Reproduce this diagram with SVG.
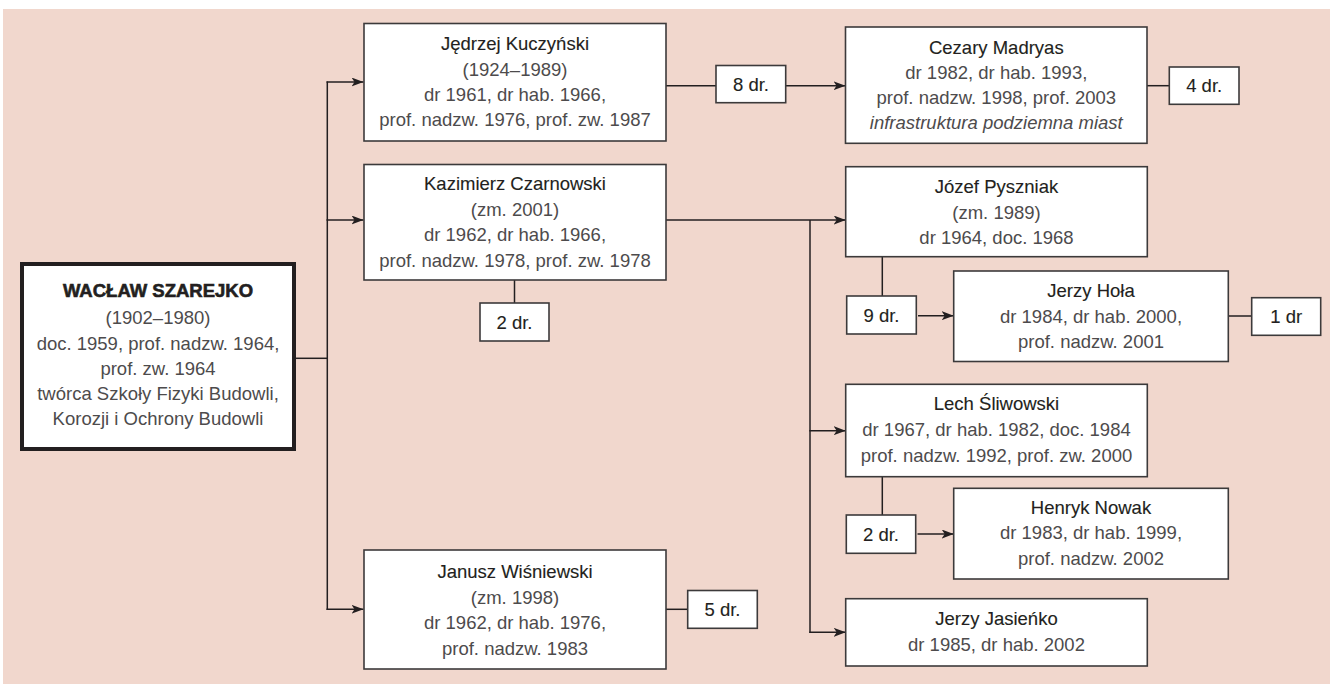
<svg xmlns="http://www.w3.org/2000/svg" width="1330" height="684" viewBox="0 0 1330 684">
  <style>
    .bg { fill: #f1d7cd; }
    .box { fill: #ffffff; stroke: #3c3a3b; stroke-width: 1.6; }
    .root { fill: #ffffff; stroke: #231f20; stroke-width: 4; }
    .ln { fill: none; stroke: #231f20; stroke-width: 1.5; }
    text { font-family: "Liberation Sans", Arial, sans-serif; font-size: 18.5px; text-anchor: middle; }
    .nm { fill: #231f20; stroke: #231f20; stroke-width: 0.12; }
    .dt { fill: #4d4b4c; }
    .it { fill: #4d4b4c; font-style: italic; }
    .ttl { fill: #231f20; font-weight: bold; stroke: #231f20; stroke-width: 0.6; }
    .cnt { fill: #231f20; stroke: #231f20; stroke-width: 0.12; }
  </style>
  <defs>
    <marker id="arr" viewBox="0 0 12 9" refX="12" refY="4.5" markerWidth="12" markerHeight="9" markerUnits="userSpaceOnUse" orient="auto">
      <path d="M0,0 L12,4.5 L0,9 L3,4.5 Z" fill="#231f20"/>
    </marker>
  </defs>

  <rect class="bg" x="3" y="9" width="1327" height="675"/>

  <!-- connectors -->
  <g id="connectors">
    <line class="ln" x1="296" y1="358.3" x2="327.3" y2="358.3"/>
    <line class="ln" x1="327.3" y1="81.5" x2="327.3" y2="610"/>
    <line class="ln" x1="326.5" y1="82" x2="363.5" y2="82" marker-end="url(#arr)"/>
    <line class="ln" x1="326.5" y1="220" x2="363.5" y2="220" marker-end="url(#arr)"/>
    <line class="ln" x1="326.5" y1="609.3" x2="363.5" y2="609.3" marker-end="url(#arr)"/>

    <line class="ln" x1="666" y1="85.7" x2="716" y2="85.7"/>
    <line class="ln" x1="785.7" y1="85.7" x2="845.5" y2="85.7" marker-end="url(#arr)"/>
    <line class="ln" x1="1147" y1="85.7" x2="1169.3" y2="85.7"/>

    <line class="ln" x1="514.5" y1="280" x2="514.5" y2="303"/>
    <line class="ln" x1="666" y1="220" x2="845.7" y2="220" marker-end="url(#arr)"/>
    <line class="ln" x1="810" y1="220" x2="810" y2="633"/>
    <line class="ln" x1="809.3" y1="430.7" x2="845.7" y2="430.7" marker-end="url(#arr)"/>
    <line class="ln" x1="809.3" y1="632.3" x2="845.7" y2="632.3" marker-end="url(#arr)"/>

    <line class="ln" x1="882.3" y1="256.7" x2="882.3" y2="296"/>
    <line class="ln" x1="918" y1="315.7" x2="953.7" y2="315.7" marker-end="url(#arr)"/>
    <line class="ln" x1="1228.3" y1="316" x2="1251.7" y2="316"/>

    <line class="ln" x1="882.3" y1="476.7" x2="882.3" y2="515"/>
    <line class="ln" x1="917.5" y1="534" x2="953.7" y2="534" marker-end="url(#arr)"/>

    <line class="ln" x1="666" y1="609.3" x2="687.7" y2="609.3"/>
  </g>

  <!-- founder -->
  <g id="szarejko">
    <rect class="root" x="22" y="264" width="272" height="185"/>
    <text class="ttl" x="158" y="297">WACŁAW SZAREJKO</text>
    <text class="dt" x="158" y="324">(1902–1980)</text>
    <text class="dt" x="158" y="350">doc. 1959, prof. nadzw. 1964,</text>
    <text class="dt" x="158" y="375">prof. zw. 1964</text>
    <text class="dt" x="158" y="400">twórca Szkoły Fizyki Budowli,</text>
    <text class="dt" x="158" y="425">Korozji i Ochrony Budowli</text>
  </g>

  <g id="kuczynski">
    <rect class="box" x="364" y="23.5" width="302" height="117.5"/>
    <text class="nm" x="515" y="50">Jędrzej Kuczyński</text>
    <text class="dt" x="515" y="75.5">(1924–1989)</text>
    <text class="dt" x="515" y="100.5">dr 1961, dr hab. 1966,</text>
    <text class="dt" x="515" y="125.5">prof. nadzw. 1976, prof. zw. 1987</text>
  </g>

  <g id="kuczynski-dr">
    <rect class="box" x="716" y="65.5" width="69.7" height="37.2"/>
    <text class="cnt" x="751" y="91">8 dr.</text>
  </g>

  <g id="madryas">
    <rect class="box" x="845.5" y="27" width="301.5" height="116.3"/>
    <text class="nm" x="996.3" y="53.5">Cezary Madryas</text>
    <text class="dt" x="996.3" y="78.5">dr 1982, dr hab. 1993,</text>
    <text class="dt" x="996.3" y="104">prof. nadzw. 1998, prof. 2003</text>
    <text class="it" x="996.3" y="129">infrastruktura podziemna miast</text>
  </g>

  <g id="madryas-dr">
    <rect class="box" x="1169.3" y="67" width="69.7" height="37.3"/>
    <text class="cnt" x="1204.2" y="92.3">4 dr.</text>
  </g>

  <g id="czarnowski">
    <rect class="box" x="364" y="164.5" width="302" height="115.5"/>
    <text class="nm" x="515" y="190">Kazimierz Czarnowski</text>
    <text class="dt" x="515" y="215.5">(zm. 2001)</text>
    <text class="dt" x="515" y="241">dr 1962, dr hab. 1966,</text>
    <text class="dt" x="515" y="266.5">prof. nadzw. 1978, prof. zw. 1978</text>
  </g>

  <g id="czarnowski-dr">
    <rect class="box" x="480" y="303" width="69" height="38"/>
    <text class="cnt" x="514.5" y="328.5">2 dr.</text>
  </g>

  <g id="wisniewski">
    <rect class="box" x="364" y="550" width="302" height="119"/>
    <text class="nm" x="515" y="578">Janusz Wiśniewski</text>
    <text class="dt" x="515" y="603.5">(zm. 1998)</text>
    <text class="dt" x="515" y="629">dr 1962, dr hab. 1976,</text>
    <text class="dt" x="515" y="654.5">prof. nadzw. 1983</text>
  </g>

  <g id="wisniewski-dr">
    <rect class="box" x="687.7" y="590.5" width="69.6" height="37.8"/>
    <text class="cnt" x="722.5" y="616">5 dr.</text>
  </g>

  <g id="pyszniak">
    <rect class="box" x="845.7" y="166.7" width="301.6" height="90"/>
    <text class="nm" x="996.5" y="193">Józef Pyszniak</text>
    <text class="dt" x="996.5" y="218.5">(zm. 1989)</text>
    <text class="dt" x="996.5" y="243.5">dr 1964, doc. 1968</text>
  </g>

  <g id="pyszniak-dr">
    <rect class="box" x="846.7" y="296" width="69.6" height="38"/>
    <text class="cnt" x="881.5" y="321.5">9 dr.</text>
  </g>

  <g id="hola">
    <rect class="box" x="953.7" y="271" width="274.6" height="90.5"/>
    <text class="nm" x="1091" y="297">Jerzy Hoła</text>
    <text class="dt" x="1091" y="322.7">dr 1984, dr hab. 2000,</text>
    <text class="dt" x="1091" y="348.3">prof. nadzw. 2001</text>
  </g>

  <g id="hola-dr">
    <rect class="box" x="1251.7" y="297.7" width="69" height="37.6"/>
    <text class="cnt" x="1286.2" y="323">1 dr</text>
  </g>

  <g id="sliwowski">
    <rect class="box" x="845.7" y="384.3" width="301.6" height="92.4"/>
    <text class="nm" x="996.5" y="410">Lech Śliwowski</text>
    <text class="dt" x="996.5" y="436">dr 1967, dr hab. 1982, doc. 1984</text>
    <text class="dt" x="996.5" y="461.7">prof. nadzw. 1992, prof. zw. 2000</text>
  </g>

  <g id="sliwowski-dr">
    <rect class="box" x="846.3" y="515" width="69.4" height="38.3"/>
    <text class="cnt" x="881" y="540.5">2 dr.</text>
  </g>

  <g id="nowak">
    <rect class="box" x="953.7" y="488.3" width="274.6" height="90.7"/>
    <text class="nm" x="1091" y="513.5">Henryk Nowak</text>
    <text class="dt" x="1091" y="539.3">dr 1983, dr hab. 1999,</text>
    <text class="dt" x="1091" y="565">prof. nadzw. 2002</text>
  </g>

  <g id="jasienko">
    <rect class="box" x="845.7" y="598.7" width="301.6" height="67.3"/>
    <text class="nm" x="996.5" y="625">Jerzy Jasieńko</text>
    <text class="dt" x="996.5" y="650.7">dr 1985, dr hab. 2002</text>
  </g>
</svg>
